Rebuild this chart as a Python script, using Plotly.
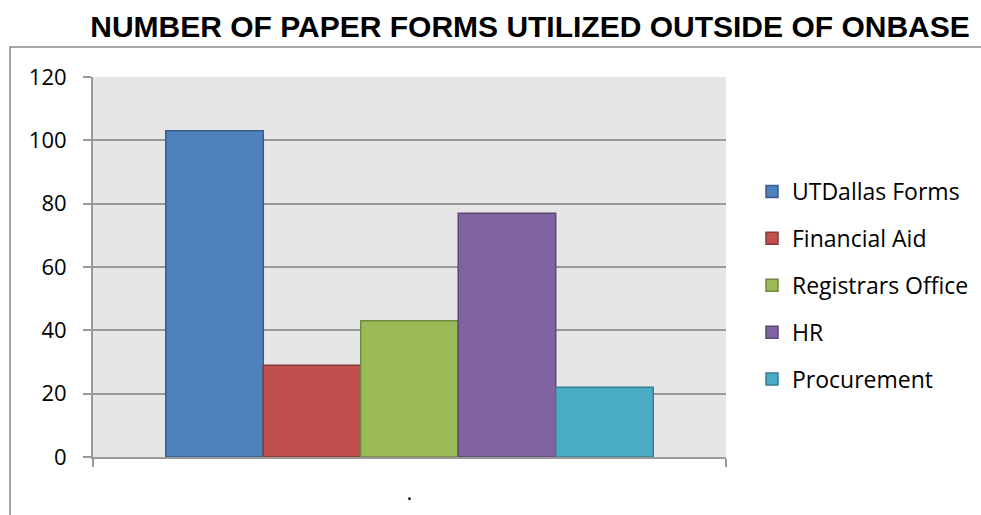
import plotly.graph_objects as go

categories = ["."]
series_names = ["UTDallas Forms", "Financial Aid", "Registrars Office", "HR", "Procurement"]
series_values = [[103], [29], [43], [77], [22]]
fill_colors = ["#4f81bd", "#c0504d", "#9bbb59", "#8064a2", "#4bacc6"]
line_colors = ["#385d8a", "#8c3836", "#71893f", "#5c4776", "#357d91"]
y_ticks = [0, 20, 40, 60, 80, 100, 120]

W, H = 981, 515
L, R, T, B = 93, 255, 77, 58
pw, ph = W - L - R, H - T - B

fig = go.Figure()
for i, name in enumerate(series_names):
    fig.add_trace(go.Bar(
        x=categories, y=series_values[i], name=name,
        legendgroup=name,
        marker=dict(color=fill_colors[i], line=dict(color=line_colors[i], width=1.5)),
    ))

def px_x(p):
    return (p - L) / pw

def px_y(p):
    return (H - B - p) / ph

fig.update_layout(
    width=W, height=H,
    margin=dict(l=L, r=R, t=T, b=B, autoexpand=False),
    paper_bgcolor="white",
    plot_bgcolor="#e6e6e6",
    barmode="group",
    bargap=0.23,
    bargroupgap=0,
    font=dict(family="Open Sans", size=22, color="black"),
    title=dict(text="<b>NUMBER OF PAPER FORMS UTILIZED OUTSIDE OF ONBASE</b>",
               font=dict(family="Liberation Sans", size=30, color="black"),
               x=530 / W, xanchor="center", xref="container",
               y=1 - 26 / H, yanchor="middle", yref="container"),
    showlegend=True,
    legend=dict(x=px_x(752), xanchor="left", y=px_y(170), yanchor="top",
                font=dict(family="Open Sans", size=23, color="black"),
                tracegroupgap=14, bgcolor="rgba(0,0,0,0)",
                itemclick=False),
    xaxis=dict(
        type="category", showgrid=False,
        showline=True, linecolor="#999999", linewidth=2,
        ticks="outside", tickson="boundaries", ticklen=8, tickcolor="#999999", tickwidth=2,
        ticklabelstandoff=15,
        tickfont=dict(family="Open Sans", size=22, color="black"),
    ),
    yaxis=dict(
        range=[0, 120], tickvals=y_ticks, ticktext=[str(v) for v in y_ticks],
        showgrid=True, gridcolor="#999999", gridwidth=1.5,
        showline=True, linecolor="#999999", linewidth=2,
        ticks="outside", ticklen=8, tickcolor="#999999", tickwidth=2,
        ticklabelstandoff=12, zeroline=False,
        tickfont=dict(family="Open Sans", size=22, color="black"),
    ),
    shapes=[dict(type="rect", xref="paper", yref="paper",
                 x0=px_x(10), x1=px_x(990), y0=px_y(47), y1=px_y(530),
                 line=dict(color="#888888", width=1.5), fillcolor="rgba(0,0,0,0)",
                 layer="below")],
)

fig.write_html("out.html")
